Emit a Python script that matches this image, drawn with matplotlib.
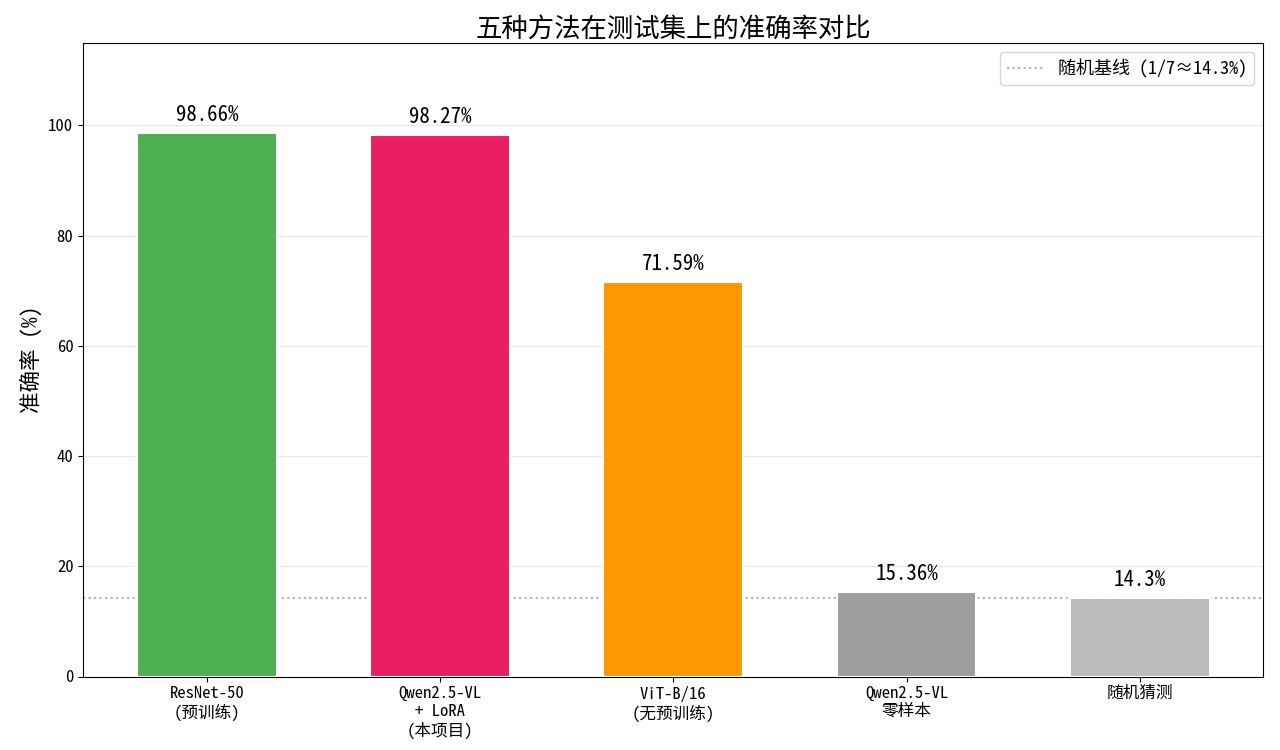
import matplotlib
matplotlib.use("Agg")
import matplotlib.pyplot as plt

plt.rcParams['font.family'] = ['Noto Sans Mono CJK SC', 'Noto Sans CJK SC', 'DejaVu Sans']
plt.rcParams['axes.unicode_minus'] = False

methods = ['ResNet-50\n(预训练)', 'Qwen2.5-VL\n+ LoRA\n(本项目)', 'ViT-B/16\n(无预训练)', 'Qwen2.5-VL\n零样本', '随机猜测']
accuracy = [98.66, 98.27, 71.59, 15.36, 14.3]
labels = ['98.66%', '98.27%', '71.59%', '15.36%', '14.3%']
colors = ['#4CAF50', '#E91E63', '#FF9800', '#9E9E9E', '#BDBDBD']
baseline = 100 / 7

fig, ax = plt.subplots(figsize=(12.8, 7.5), dpi=100)
fig.subplots_adjust(left=0.065, right=0.987, top=0.943, bottom=0.098)
x = list(range(len(methods)))
bars = ax.bar(x, accuracy, width=0.6, color=colors, edgecolor='white', linewidth=1.5, zorder=3)
for b, lab in zip(bars, labels):
    ax.text(b.get_x() + b.get_width() / 2, b.get_height() + 1.3, lab,
            ha='center', va='bottom', fontsize=15)
ax.axhline(baseline, color='gray', linestyle=':', linewidth=1.5, alpha=0.6,
           label='随机基线 (1/7≈14.3%)', zorder=2)
ax.set_xticks(x)
ax.set_xticklabels(methods, fontsize=12)
ax.tick_params(axis='y', labelsize=12)
ax.set_ylim(0, 115)
ax.set_ylabel('准确率 (%)', fontsize=15.5)
ax.set_title('五种方法在测试集上的准确率对比', fontsize=19, pad=4)
ax.yaxis.grid(True, alpha=0.3, zorder=0)
ax.set_axisbelow(True)
ax.legend(loc='upper right', fontsize=13)
fig.savefig('out.png', dpi=100)
